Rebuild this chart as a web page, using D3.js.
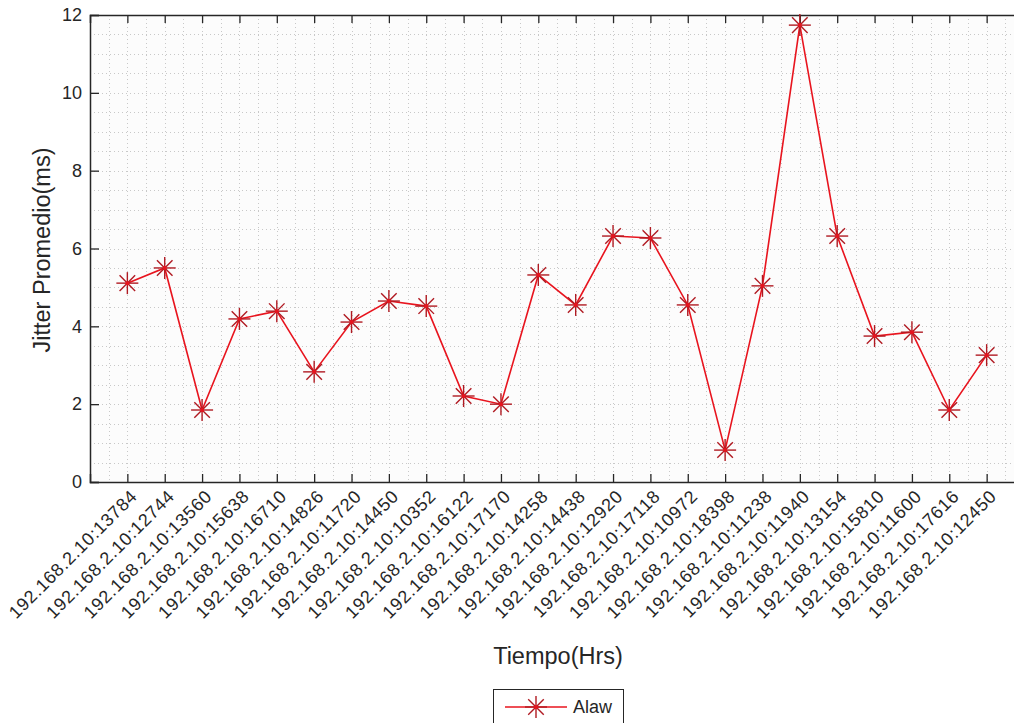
<!DOCTYPE html>
<html><head><meta charset="utf-8">
<script src="https://cdn.jsdelivr.net/npm/d3@7"></script>
<style>body{margin:0;background:#fff;} svg{display:block;font-family:"Liberation Sans",Arial,sans-serif;}</style>
</head><body>
<svg id="c" width="1014" height="723"></svg>
<script>
const categories = ["192.168.2.10:13784","192.168.2.10:12744","192.168.2.10:13560","192.168.2.10:15638","192.168.2.10:16710","192.168.2.10:14826","192.168.2.10:11720","192.168.2.10:14450","192.168.2.10:10352","192.168.2.10:16122","192.168.2.10:17170","192.168.2.10:14258","192.168.2.10:14438","192.168.2.10:12920","192.168.2.10:17118","192.168.2.10:10972","192.168.2.10:18398","192.168.2.10:11238","192.168.2.10:11940","192.168.2.10:13154","192.168.2.10:15810","192.168.2.10:11600","192.168.2.10:17616","192.168.2.10:12450"];
const jitter = [5.11,5.50,1.85,4.19,4.39,2.83,4.11,4.65,4.52,2.21,2.00,5.32,4.55,6.32,6.27,4.55,0.82,5.04,11.74,6.32,3.75,3.85,1.85,3.26];
const yTicks = [0,2,4,6,8,10,12];
const seriesName = "Alaw";
const xLabel = "Tiempo(Hrs)";
const yLabel = "Jitter Promedio(ms)";

const svg = d3.select("#c");
const L = 90, R = 1024, T = 15, B = 482;
const x = d3.scaleLinear().domain([0, categories.length + 1]).range([L, R]);
const y = d3.scaleLinear().domain([0, 12]).range([B, T]);
const idx = d3.range(1, categories.length + 1);

// background
svg.append("rect").attr("x", L).attr("y", T).attr("width", R - L).attr("height", B - T).attr("fill", "#fcfcfc");

// grid
const grid = svg.append("g").attr("stroke", "#c8c8c8").attr("stroke-width", 1).attr("stroke-dasharray", "1,3");
const xMinor = d3.range(1, 2 * (categories.length + 1)).map(d => d / 2);
grid.selectAll(".gx").data(xMinor).join("line")
  .attr("x1", d => Math.round(x(d)) + 0.5).attr("x2", d => Math.round(x(d)) + 0.5)
  .attr("y1", T).attr("y2", B);
const yMinor = d3.range(1, 24).map(d => d / 2);
grid.selectAll(".gy").data(yMinor).join("line")
  .attr("y1", d => Math.round(y(d)) + 0.5).attr("y2", d => Math.round(y(d)) + 0.5)
  .attr("x1", L).attr("x2", R);

// axes
const axCol = "#262626";
const fs = 18;
const gB = svg.append("g").attr("transform", `translate(0,${B})`)
  .call(d3.axisBottom(x).tickValues(idx).tickSize(-8).tickFormat((d) => categories[d - 1]));
gB.selectAll("text").attr("font-size", fs).attr("fill", axCol).attr("letter-spacing", 0.7)
  .attr("text-anchor", "end").attr("transform", "translate(6,11) rotate(-45)")
  .attr("dx", 0).attr("dy", "0.35em").attr("x", 0).attr("y", 0);
const gT = svg.append("g").attr("transform", `translate(0,${T})`)
  .call(d3.axisTop(x).tickValues(idx).tickSize(-8).tickFormat(""));
const gL = svg.append("g").attr("transform", `translate(${L},0)`)
  .call(d3.axisLeft(y).tickValues(yTicks).tickSize(-9).tickPadding(8).tickFormat(d3.format("d")));
gL.selectAll("text").attr("font-size", fs).attr("fill", axCol);
const gR = svg.append("g").attr("transform", `translate(${R},0)`)
  .call(d3.axisRight(y).tickValues(yTicks).tickSize(-9).tickFormat(""));
[gB, gT, gL, gR].forEach(g => {
  g.select(".domain").attr("stroke", axCol).attr("stroke-width", 1.5);
  g.selectAll(".tick line").attr("stroke", axCol).attr("stroke-width", 1.3);
});

// axis labels
svg.append("text").attr("x", 558).attr("y", 664).attr("text-anchor", "middle")
  .attr("font-size", 23.5).attr("fill", axCol).text(xLabel);
svg.append("text").attr("transform", "translate(50,250) rotate(-90)").attr("text-anchor", "middle")
  .attr("font-size", 23.5).attr("fill", axCol).text(yLabel);

// line
const lineCol = "#e8141e";
const markCol = "#b01a22";
svg.append("path").datum(jitter)
  .attr("fill", "none").attr("stroke", lineCol).attr("stroke-width", 1.6)
  .attr("d", d3.line().x((d, i) => x(i + 1)).y(d => y(d)));

function asterisk(g, cx, cy, r) {
  const s = r * Math.SQRT1_2;
  const segs = [[-r,0,r,0],[0,-r,0,r],[-s,-s,s,s],[-s,s,s,-s]];
  g.selectAll(null).data(segs).join("line")
    .attr("x1", d => cx + d[0]).attr("y1", d => cy + d[1])
    .attr("x2", d => cx + d[2]).attr("y2", d => cy + d[3]);
}
const mk = svg.append("g").attr("stroke", markCol).attr("stroke-width", 1.4);
jitter.forEach((v, i) => {
  asterisk(mk.append("g"), x(i + 1), y(v), 11);
});
svg.append("g").selectAll("circle").data(jitter).join("circle")
  .attr("cx", (d, i) => x(i + 1)).attr("cy", d => y(d)).attr("r", 2).attr("fill", lineCol);

// legend
const lg = svg.append("g");
lg.append("rect").attr("x", 493.5).attr("y", 689.5).attr("width", 130).attr("height", 38)
  .attr("fill", "#fff").attr("stroke", axCol).attr("stroke-width", 1);
lg.append("line").attr("x1", 505).attr("x2", 567).attr("y1", 707).attr("y2", 707)
  .attr("stroke", lineCol).attr("stroke-width", 1.6);
const lm = lg.append("g").attr("stroke", markCol).attr("stroke-width", 1.4);
asterisk(lm, 536, 707, 11);
lg.append("circle").attr("cx", 536).attr("cy", 707).attr("r", 2).attr("fill", lineCol);
lg.append("text").attr("x", 573).attr("y", 713).attr("font-size", 18).attr("fill", axCol).text(seriesName);
</script>
</body></html>
